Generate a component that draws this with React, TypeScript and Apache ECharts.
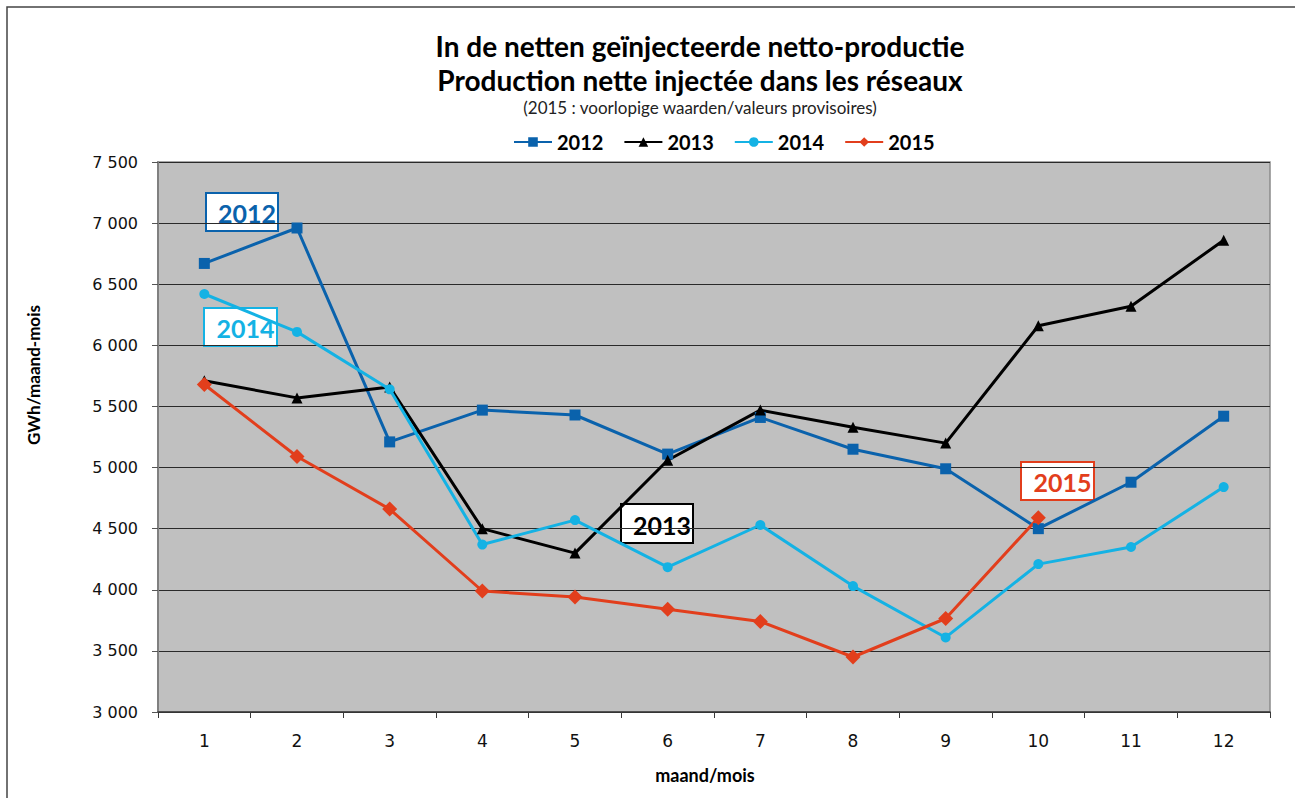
import React, { useEffect, useRef } from "react";
import * as echarts from "echarts";

const months = ["1", "2", "3", "4", "5", "6", "7", "8", "9", "10", "11", "12"];
const s2012 = [6670, 6960, 5210, 5470, 5430, 5110, 5410, 5150, 4990, 4500, 4880, 5420];
const s2013 = [5710, 5570, 5660, 4500, 4300, 5060, 5470, 5330, 5200, 6160, 6320, 6860];
const s2014 = [6420, 6110, 5640, 4370, 4570, 4185, 4530, 4030, 3610, 4210, 4350, 4840];
const s2015 = [5680, 5090, 4660, 3990, 3940, 3840, 3740, 3450, 3765, 4590];

const titleLine1 = "In de netten geïnjecteerde netto-productie";
const titleLine2 = "Production nette injectée dans les réseaux";
const subTitle = "(2015 : voorlopige waarden/valeurs provisoires)";
const yAxisName = "GWh/maand-mois";
const xAxisName = "maand/mois";

const C2012 = "#0A62AC";
const C2013 = "#000000";
const C2014 = "#14B2E4";
const C2015 = "#E23E1C";

const FONT = "Lato, 'Open Sans', sans-serif";
const TICKFONT = "'DejaVu Sans', Verdana, sans-serif";

function labelBox(x: number, y: number, w: number, h: number, text: string, color: string) {
  return {
    type: "group",
    x,
    y,
    children: [
      {
        type: "rect",
        shape: { x: 0, y: 0, width: w, height: h },
        style: { fill: "#ffffff", stroke: color, lineWidth: 2 },
      },
      {
        type: "text",
        x: w / 2 + 5,
        y: h / 2 + 1,
        style: {
          text,
          fill: color,
          font: `bold 25px ${FONT}`,
          textAlign: "center",
          textVerticalAlign: "middle",
        },
      },
    ],
  };
}

export default function App() {
  const ref = useRef<HTMLDivElement>(null);
  useEffect(() => {
    if (!ref.current) return;
    const chart = echarts.init(ref.current, undefined, { renderer: "svg" });
    const mk = (name: string, data: number[], color: string, symbol: string, size: number) => ({
      name,
      type: "line",
      data,
      symbol,
      symbolSize: size,
      showAllSymbol: true,
      lineStyle: { color, width: 3 },
      itemStyle: { color },
      emphasis: { disabled: true },
    });
    chart.setOption({
      animation: false,
      backgroundColor: "#ffffff",
      textStyle: { fontFamily: FONT },
      legend: {
        top: 127,
        left: 508,
        itemWidth: 38,
        itemHeight: 12,
        itemGap: 20,
        textStyle: { fontFamily: FONT, fontWeight: "bold", fontSize: 20, color: "#000" },
        data: ["2012", "2013", "2014", "2015"],
      },
      grid: {
        left: 158,
        right: 25,
        top: 162,
        bottom: 86,
        show: true,
        backgroundColor: "#C0C0C0",
        borderColor: "#8a8a8a",
        borderWidth: 1.5,
      },
      xAxis: {
        type: "category",
        data: months,
        boundaryGap: true,
        axisLine: { show: true, lineStyle: { color: "#3a3a3a", width: 1.5 } },
        axisTick: { show: true, length: 6, interval: 0, lineStyle: { color: "#3a3a3a" } },
        axisLabel: { margin: 20, fontSize: 17, fontFamily: TICKFONT, color: "#111" },
        splitLine: { show: false },
      },
      yAxis: {
        type: "value",
        min: 3000,
        max: 7500,
        interval: 500,
        axisLine: { show: true, lineStyle: { color: "#808080", width: 2 } },
        axisTick: { show: true, length: 6, inside: false, lineStyle: { color: "#555" } },
        axisLabel: {
          margin: 20,
          fontSize: 16,
          fontFamily: TICKFONT,
          color: "#111",
          formatter: (v: number) => {
            const s = String(v);
            return s.length > 3 ? s.slice(0, s.length - 3) + " " + s.slice(-3) : s;
          },
        },
        splitLine: { show: true, lineStyle: { color: "#2a2a2a", width: 1 } },
      },
      series: [
        mk("2012", s2012, C2012, "rect", 11),
        mk("2013", s2013, C2013, "triangle", 11),
        mk("2014", s2014, C2014, "circle", 10),
        mk("2015", s2015, C2015, "diamond", 15),
      ],
      graphic: [
        {
          type: "rect",
          shape: { x: 7, y: 7, width: 1300, height: 800 },
          style: { fill: "none", stroke: "#444", lineWidth: 1.5 },
          silent: true,
        },
        {
          type: "text",
          x: 700,
          y: 46,
          style: { text: titleLine1, font: `bold 28px ${FONT}`, fill: "#000", textAlign: "center", textVerticalAlign: "middle" },
        },
        {
          type: "text",
          x: 700,
          y: 80,
          style: { text: titleLine2, font: `bold 28px ${FONT}`, fill: "#000", textAlign: "center", textVerticalAlign: "middle" },
        },
        {
          type: "text",
          x: 700,
          y: 107,
          style: { text: subTitle, font: `17px ${FONT}`, fill: "#222", textAlign: "center", textVerticalAlign: "middle" },
        },
        {
          type: "text",
          x: 33,
          y: 375,
          rotation: Math.PI / 2,
          style: { text: yAxisName, font: `bold 17px ${FONT}`, fill: "#000", textAlign: "center", textVerticalAlign: "middle" },
        },
        {
          type: "text",
          x: 705,
          y: 775,
          style: { text: xAxisName, font: `bold 18px ${FONT}`, fill: "#000", textAlign: "center", textVerticalAlign: "middle" },
        },
        labelBox(206, 193, 72, 38, "2012", C2012),
        labelBox(204, 308, 73, 38, "2014", C2014),
        labelBox(621, 504, 72, 39, "2013", "#000000"),
        labelBox(1021, 462, 73, 38, "2015", C2015),
      ],
    });
    return () => chart.dispose();
  }, []);
  return (
    <div
      ref={ref}
      style={{ position: "absolute", left: 0, top: 0, width: 1295, height: 798 }}
    />
  );
}
